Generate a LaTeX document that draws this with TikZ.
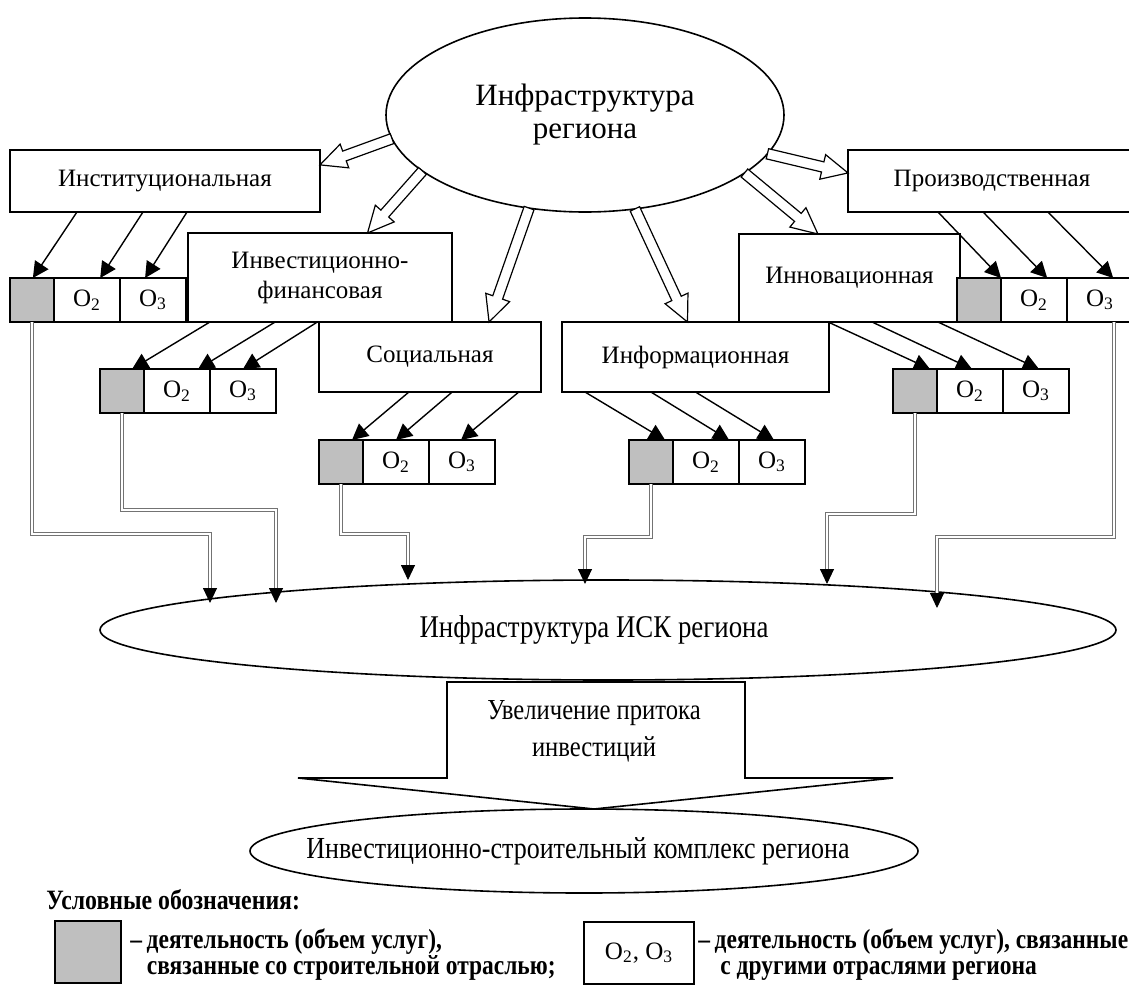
\documentclass[tikz,border=0pt]{standalone}
\usepackage{fontspec}
\setmainfont{Liberation Serif}
\newfontfamily\narrowfont[FakeStretch=0.85]{Liberation Serif}
\usetikzlibrary{shapes.geometric, arrows.meta, calc, positioning}

\newcommand{\activityrow}[3]{%
    \node[graycell] (#1g) at (#2,#3) {};
    \node[ocell] (#1b) at (#1g.north east) {O\textsubscript{2}};
    \node[ocell] (#1c) at (#1b.north east) {O\textsubscript{3}};
}
\newcommand{\hollowarrow}[2]{%
    \coordinate (hh) at ($(#2)!13pt!(#1)$);
    \draw[hollow] ($(#1)!2.6pt!90:(#2)$) -- ($(hh)!2.6pt!90:(#2)$) -- ($(hh)!6.3pt!90:(#2)$) -- (#2)
        -- ($(hh)!6.3pt!-90:(#2)$) -- ($(hh)!2.6pt!-90:(#2)$) -- ($(#1)!2.6pt!-90:(#2)$) -- cycle;
}

\begin{document}
\begin{tikzpicture}[x=0.5pt, y=-0.5pt,
        frame/.style={draw, line width=0.9pt, inner sep=2pt, outer sep=0pt, align=center, anchor=north west, font=\fontsize{12.5}{15}\selectfont},
        graycell/.style={draw, line width=0.9pt, fill=black!25, minimum width=22pt, minimum height=22pt, inner sep=0pt, outer sep=0pt, anchor=north west},
        ocell/.style={draw, line width=0.9pt, fill=white, minimum width=33pt, minimum height=22pt, inner sep=0pt, outer sep=0pt, anchor=north west, font=\fontsize{12.5}{15}\selectfont},
        oval/.style={ellipse, draw, line width=0.8pt, inner sep=0pt, outer sep=0pt, align=center},
        link/.style={line width=0.7pt, -{Triangle[width=8pt, length=8pt]}},
        feed/.style={draw=black!55, double=white, double distance=1.3pt, line width=0.45pt, -{Triangle[width=7pt, length=7.5pt, color=black]}},
        hollow/.style={draw, fill=white, line width=0.6pt, line join=miter},
        legendtext/.style={font=\narrowfont\fontsize{13.8}{13}\selectfont\bfseries, align=left, inner sep=0pt, anchor=north west}]
            \useasboundingbox (0, 0) rectangle (1129, 985);

            \node[oval, minimum width=199pt, minimum height=97pt, font=\fontsize{15.5}{16.5}\selectfont] (top) at (585, 115) {Инфраструктура\\региона};

            \node[frame, minimum width=155pt, minimum height=31pt] (inst) at (10, 150) {Институциональная};
            \node[frame, minimum width=132pt, minimum height=44.5pt] (invfin) at (188, 233) {Инвестиционно-\\финансовая};
            \node[frame, minimum width=111pt, minimum height=35pt] (soc) at (319, 322) {Социальная};
            \node[frame, minimum width=133.5pt, minimum height=35pt] (info) at (562, 322) {Информационная};
            \node[frame, minimum width=110.5pt, minimum height=44pt] (innov) at (739, 234) {Инновационная};
            \node[frame, minimum width=144pt, minimum height=31pt] (prod) at (848, 150) {Производственная};

            \activityrow{r1}{10}{278}
            \activityrow{r2}{100}{369}
            \activityrow{r3}{319}{440}
            \activityrow{r4}{629}{440}
            \activityrow{r5}{893}{369}
            \activityrow{r6}{957}{278}

            \coordinate (h1) at ($(inst.north east)!0.24!(inst.south east)$);
            \coordinate (h2) at ($(invfin.north west)!0.68!(invfin.north east)$);
            \coordinate (h3) at ($(soc.north west)!0.766!(soc.north east)$);
            \coordinate (h4) at ($(info.north west)!0.47!(info.north east)$);
            \coordinate (h5) at ($(innov.north west)!0.357!(innov.north east)$);
            \coordinate (h6) at ($(prod.north west)!0.37!(prod.south west)$);
            \foreach \a/\h in {187/h1, 199.6/h2, 239/h3, 298.3/h4, 340.4/h5, 348.7/h6}
                \hollowarrow{top.\a}{\h};

            \foreach \s/\a/\c/\b in {inst/0.216/r1g/0.52, inst/0.429/r1b/0.70, inst/0.571/r1c/0.38,
                    invfin/0.083/r2g/0.73, invfin/0.33/r2b/0.82, invfin/0.49/r2c/0.5,
                    soc/0.405/r3g/0.75, soc/0.6/r3b/0.5, soc/0.9/r3c/0.485,
                    info/0.086/r4g/0.82, info/0.333/r4b/0.85, info/0.5/r4c/0.53,
                    innov/0.403/r5g/0.84, innov/0.602/r5b/0.53, innov/0.9/r5c/0.545,
                    prod/0.3125/r6g/1.0, prod/0.469/r6b/0.70, prod/0.694/r6c/0.70}
                \draw[link] ($(\s.south west)!\a!(\s.south east)$) -- ($(\c.north west)!\b!(\c.north east)$);

            \node[oval, minimum width=508pt, minimum height=50pt,
                label={[font=\narrowfont\fontsize{15.8}{17}\selectfont, xshift=-7pt]center:Инфраструктура ИСК региона}] (isk) at (608, 630) {};

            \coordinate (t1) at (210, 603);
            \coordinate (t2) at (276, 603);
            \coordinate (t3) at (408, 580);
            \coordinate (t4) at (585, 584);
            \coordinate (t5) at (827, 584);
            \coordinate (t6) at (937, 608);
            \coordinate (r6out) at ([xshift=7pt]r6c.south);
            \draw[feed] (r1g.south) -- ++(0, 212) -| (t1);
            \draw[feed] (r2g.south) -- ++(0, 97) -| (t2);
            \draw[feed] (r3g.south) -- ++(0, 50) -| (t3);
            \draw[feed] (r4g.south) -- ++(0, 53) -| (t4);
            \draw[feed] (r5g.south) -- ++(0, 101) -| (t5);
            \draw[feed] (r6out) -- ++(0, 215) -| (t6);

            \draw[line width=0.8pt] (447, 682) -- (745, 682) -- (745, 778) -- (893, 778) -- (594, 809) -- (298, 778) -- (447, 778) -- cycle;
            \node[align=center, font=\narrowfont\fontsize{14.5}{18.5}\selectfont] (flow) at (594, 731) {Увеличение притока\\инвестиций};

            \node[oval, minimum width=334pt, minimum height=42pt,
                label={[font=\narrowfont\fontsize{15.3}{17}\selectfont, xshift=-3pt]center:Инвестиционно-строительный комплекс региона}] (isc) at (584, 851) {};

            \node[anchor=west, inner sep=0pt, font=\narrowfont\fontsize{14}{14}\selectfont\bfseries] (legtitle) at (46, 900) {Условные обозначения:};
            \node[graycell, minimum width=33pt, minimum height=31pt] (leggray) at (55, 921) {};
            \node[legendtext] (legtext1) at (130, 928) {–\,деятельность (объем услуг),\\\hspace*{0.6em}связанные со строительной отраслью;};
            \node[ocell, minimum width=55pt, minimum height=31pt] (legwhite) at (584, 922) {O\textsubscript{2}, O\textsubscript{3}};
            \node[legendtext] (legtext2) at (698, 928) {–\,деятельность (объем услуг), связанные\\\hspace*{0.8em}с другими отраслями региона};
        \end{tikzpicture}
\end{document}
